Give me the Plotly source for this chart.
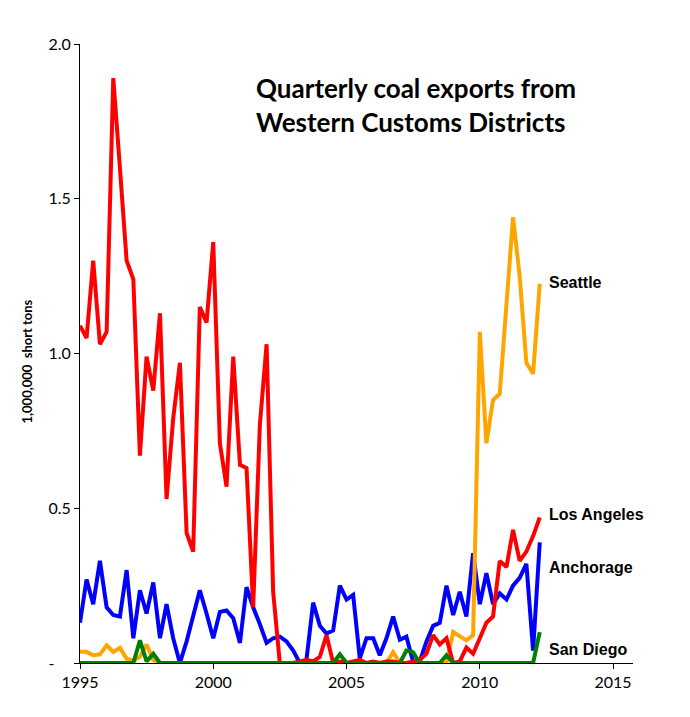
import plotly.graph_objects as go
import pandas as pd

# quarterly, 1995 Q1 .. 2012 Q2, million short tons
quarters = pd.date_range("1995-01-01", periods=70, freq="QS")

los_angeles = [1.09, 1.05, 1.30, 1.03, 1.07, 1.89, 1.60, 1.30, 1.24, 0.67,
               0.99, 0.88, 1.13, 0.53, 0.79, 0.97, 0.42, 0.36, 1.15, 1.10,
               1.36, 0.71, 0.57, 0.99, 0.64, 0.63, 0.18, 0.77, 1.03, 0.23,
               0.0, 0.0, 0.0, 0.005, 0.01, 0.005, 0.02, 0.09, 0.0, 0.005,
               0.0, 0.005, 0.01, 0.0, 0.005, 0.0, 0.005, 0.005, 0.0, 0.0,
               0.005, 0.01, 0.03, 0.09, 0.06, 0.08, 0.0, 0.005, 0.05, 0.03,
               0.08, 0.13, 0.15, 0.33, 0.31, 0.43, 0.33, 0.36, 0.41, 0.47]

anchorage = [0.13, 0.27, 0.19, 0.33, 0.18, 0.155, 0.15, 0.30, 0.08, 0.235,
             0.16, 0.26, 0.08, 0.19, 0.08, 0.0, 0.07, 0.155, 0.235, 0.16,
             0.08, 0.165, 0.17, 0.145, 0.065, 0.245, 0.18, 0.125, 0.065, 0.08,
             0.085, 0.07, 0.04, 0.0, 0.01, 0.195, 0.12, 0.095, 0.105, 0.25,
             0.205, 0.22, 0.015, 0.08, 0.08, 0.025, 0.08, 0.15, 0.075, 0.085,
             0.005, 0.005, 0.07, 0.12, 0.13, 0.25, 0.155, 0.23, 0.15, 0.355,
             0.19, 0.29, 0.19, 0.225, 0.205, 0.25, 0.275, 0.32, 0.04, 0.39]

seattle = [0.036, 0.036, 0.025, 0.028, 0.057, 0.036, 0.049, 0.014, 0.008, 0.02,
           0.06, 0.01, 0, 0, 0, 0, 0, 0, 0, 0,
           0, 0, 0, 0, 0, 0, 0, 0, 0, 0,
           0, 0, 0, 0, 0, 0, 0, 0, 0, 0,
           0, 0, 0, 0, 0, 0, 0, 0.035, 0, 0,
           0, 0, 0, 0, 0, 0, 0.10, 0.087, 0.073, 0.09,
           1.07, 0.71, 0.85, 0.87, 1.15, 1.44, 1.25, 0.97, 0.935, 1.225]

san_diego = [0, 0, 0, 0, 0, 0, 0, 0, 0, 0.073,
             0.005, 0.03, 0, 0, 0, 0, 0, 0, 0, 0,
             0, 0, 0, 0, 0, 0, 0, 0, 0, 0,
             0, 0, 0, 0, 0, 0, 0, 0, 0, 0.028,
             0, 0, 0, 0, 0, 0, 0, 0, 0, 0.04,
             0.035, 0, 0, 0, 0, 0.025, 0, 0, 0, 0,
             0, 0, 0, 0, 0, 0, 0, 0, 0, 0.10]

y_ticks = [0, 0.5, 1.0, 1.5, 2.0]
y_labels = ["-\u00a0\u00a0\u00a0\u00a0", "0.5", "1.0", "1.5", "2.0"]
x_ticks = ["1995-01-01", "2000-01-01", "2005-01-01", "2010-01-01", "2015-01-01"]
x_labels = ["1995", "2000", "2005", "2010", "2015"]

fig = go.Figure()

fig.add_trace(go.Scatter(x=quarters, y=anchorage, mode='lines', name='Anchorage',
                         line=dict(color='#0000FF', width=4)))
fig.add_trace(go.Scatter(x=quarters, y=seattle, mode='lines', name='Seattle',
                         line=dict(color='#FFA500', width=4)))
fig.add_trace(go.Scatter(x=quarters, y=los_angeles, mode='lines', name='Los Angeles',
                         line=dict(color='#FF0000', width=4)))
fig.add_trace(go.Scatter(x=quarters, y=san_diego, mode='lines', name='San Diego',
                         line=dict(color='#008000', width=4)))

# labels at the right end of each line
last = quarters[-1] + pd.Timedelta(days=100)
for name, y in [('Seattle', seattle[-1] + 0.005), ('Los Angeles', los_angeles[-1] + 0.01),
                ('Anchorage', anchorage[-1] - 0.08), ('San Diego', 0.045)]:
    fig.add_annotation(x=last, y=y, text='<b>' + name + '</b>', showarrow=False,
                       xanchor='left', yanchor='middle',
                       font=dict(family='Liberation Sans', size=16, color='black'))

fig.add_annotation(xref='paper', yref='paper', x=0.314, y=0.958,
                   text='<b>Quarterly coal exports from<br>Western Customs Districts</b>',
                   showarrow=False, xanchor='left', yanchor='top', align='left',
                   font=dict(family='Lato', size=26, color='black'))

fig.add_annotation(xref='paper', yref='paper', x=-0.114, y=0.487,
                   text='<b>1,000,000  short tons</b>', textangle=-90, showarrow=False,
                   font=dict(family='Lato', size=13, color='black'))

fig.update_xaxes(range=['1995-01-01', '2015-10-01'], tickvals=x_ticks, ticktext=x_labels,
                 showgrid=False, zeroline=False, showline=True, linecolor='black', linewidth=1,
                 ticks='outside', ticklen=5, tickcolor='black')
fig.update_yaxes(range=[0, 2.0], tickvals=y_ticks, ticktext=y_labels,
                 showgrid=False, zeroline=False, showline=True, linecolor='black', linewidth=1,
                 ticks='outside', ticklen=5, tickcolor='black')

# page body adds 8px, so the figure is a bit smaller than the window
fig.update_layout(
    width=682, height=709,
    margin=dict(l=72, r=57, t=36, b=54),
    plot_bgcolor='white', paper_bgcolor='white',
    font=dict(family='Lato', size=16, color='black'),
    showlegend=False
)

fig.write_html("out.html")
